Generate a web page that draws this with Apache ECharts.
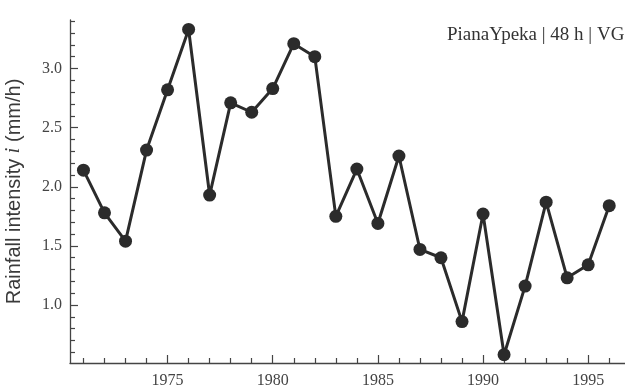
<!DOCTYPE html>
<html>
<head>
<meta charset="utf-8">
<script src="https://cdn.jsdelivr.net/npm/echarts@6/dist/echarts.min.js"></script>
<style>
html,body{margin:0;padding:0;background:#fff;}
#chart{width:625px;height:390px;}
</style>
</head>
<body>
<div id="chart"></div>
<script>
const years = [1971,1972,1973,1974,1975,1976,1977,1978,1979,1980,1981,1982,1983,1984,1985,1986,1987,1988,1989,1990,1991,1992,1993,1994,1995,1996];
const intensity = [2.14,1.78,1.54,2.31,2.82,3.33,1.93,2.71,2.63,2.83,3.21,3.10,1.75,2.15,1.69,2.26,1.47,1.40,0.86,1.77,0.58,1.16,1.87,1.23,1.34,1.84];
const xMajorTicks = [1975,1980,1985,1990,1995];
const xMinorTicks = [1971,1972,1973,1974,1976,1977,1978,1979,1981,1982,1983,1984,1986,1987,1988,1989,1991,1992,1993,1994,1996];
const yMajorTicks = [1.0,1.5,2.0,2.5,3.0];
const yMinorTicks = [0.6,0.7,0.8,0.9,1.1,1.2,1.3,1.4,1.6,1.7,1.8,1.9,2.1,2.2,2.3,2.4,2.6,2.7,2.8,2.9,3.1,3.2,3.3,3.4];
const titleText = 'PianaYpeka | 48 h | VG';
const yAxisName = ['Rainfall intensity ', 'i', ' (mm/h)'];

const chart = echarts.init(document.getElementById('chart'), null, {renderer:'canvas'});
const axisColor = '#444';
const X_MIN = 1970.36, X_MAX = 1996.75, Y_MIN = 0.51, Y_MAX = 3.41;
const labelStyle = {fontFamily:'Liberation Serif', fontSize:16, color:'#444'};

function majorX(){
  return {
    type:'value', min:X_MIN, max:X_MAX, position:'bottom',
    axisLine:{show:true, onZero:false, lineStyle:{color:axisColor, width:1.3}},
    axisTick:{show:true, inside:true, length:8, customValues:xMajorTicks, lineStyle:{color:axisColor, width:1.2}},
    splitLine:{show:false},
    axisLabel:Object.assign({margin:10, customValues:xMajorTicks, formatter:v=>String(v)}, labelStyle)
  };
}
function minorX(){
  return {
    type:'value', min:X_MIN, max:X_MAX, position:'bottom', offset:0,
    axisLine:{show:false, onZero:false},
    axisTick:{show:true, inside:true, length:5, customValues:xMinorTicks, lineStyle:{color:axisColor, width:1.2}},
    splitLine:{show:false},
    axisLabel:{show:false}
  };
}
function majorY(){
  return {
    type:'value', min:Y_MIN, max:Y_MAX, position:'left',
    axisLine:{show:true, onZero:false, lineStyle:{color:axisColor, width:1.3}},
    axisTick:{show:true, inside:true, length:8, customValues:yMajorTicks, lineStyle:{color:axisColor, width:1.2}},
    splitLine:{show:false},
    axisLabel:Object.assign({margin:8, customValues:yMajorTicks, formatter:v=>Number(v).toFixed(1)}, labelStyle),
    name:'{a|' + yAxisName[0] + '}{b|' + yAxisName[1] + '}{a|' + yAxisName[2] + '}',
    nameLocation:'middle', nameRotate:90, nameGap:46,
    nameTextStyle:{
      rich:{
        a:{fontFamily:'Liberation Sans', fontSize:20, color:'#3a3a3a'},
        b:{fontFamily:'Liberation Serif', fontStyle:'italic', fontSize:20, color:'#3a3a3a'}
      }
    }
  };
}
function minorY(){
  return {
    type:'value', min:Y_MIN, max:Y_MAX, position:'left', offset:0,
    axisLine:{show:false, onZero:false},
    axisTick:{show:true, inside:true, length:5, customValues:yMinorTicks, lineStyle:{color:axisColor, width:1.2}},
    splitLine:{show:false},
    axisLabel:{show:false}
  };
}

chart.setOption({
  animation:false,
  backgroundColor:'#fff',
  title:{
    text:titleText, left:442, top:21,
    textStyle:{fontFamily:'Liberation Serif', fontSize:19, fontWeight:'normal', color:'#333'}
  },
  grid:{left:70, top:20, right:0, bottom:27, containLabel:false, outerBoundsMode:'none'},
  xAxis:[majorX(), minorX()],
  yAxis:[majorY(), minorY()],
  series:[{
    type:'line',
    xAxisIndex:0, yAxisIndex:0,
    data: years.map((y,i)=>[y, intensity[i]]),
    symbol:'circle', symbolSize:13,
    lineStyle:{color:'#2b2b2b', width:3},
    itemStyle:{color:'#2b2b2b'},
    clip:false
  }]
});
</script>
</body>
</html>
